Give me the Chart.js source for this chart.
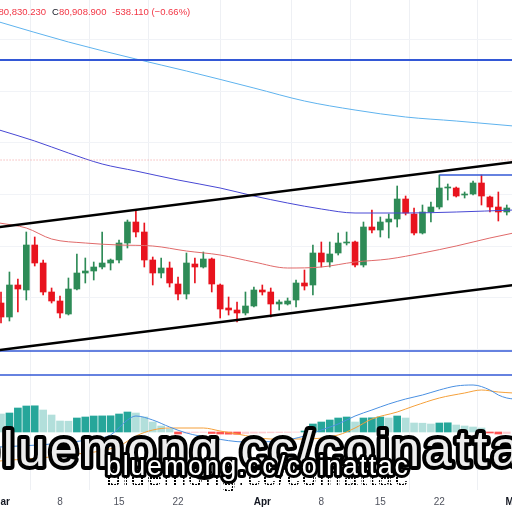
<!DOCTYPE html>
<html>
<head>
<meta charset="utf-8">
<script src="https://cdn.jsdelivr.net/npm/chart.js@4.4.1/dist/chart.umd.min.js"></script>
<style>
  html, body { margin: 0; padding: 0; background: #fff; overflow: hidden; }
  #wrap { position: relative; width: 512px; height: 512px; overflow: hidden;
          font-family: "Liberation Sans", Arial, sans-serif; }
  canvas { position: absolute; left: 0; }
  #main { top: 0; }
  #macd { top: 380px; }
  .hdr { position: absolute; top: 6px; font-size: 9.5px; line-height: 12px;
         color: #f23645; white-space: nowrap; }
  .hdr b { font-weight: normal; color: #131722; }
  #wm { position: absolute; left: 0; top: 0; }
  #wm text { font-family: "Liberation Sans", Arial, sans-serif; }
</style>
</head>
<body>
<div id="wrap">
  <canvas id="main" width="512" height="490"></canvas>
  <canvas id="macd" width="512" height="132"></canvas>

  <div class="hdr" style="right:466px"><b>L</b>80,830.230</div>
  <div class="hdr" style="left:52px"><b>C</b>80,908.900</div>
  <div class="hdr" style="left:112px">-538.110 (−0.66%)</div>

  <svg id="wm" width="512" height="512">
    <defs>
      <pattern id="scan" width="3" height="3" patternUnits="userSpaceOnUse">
        <rect width="2" height="2" fill="#000"/>
      </pattern>
    </defs>
    <text x="-29" y="466" font-size="50" letter-spacing="4"
          fill="#ececec" stroke="#000" stroke-width="8" stroke-linejoin="round"
          paint-order="stroke fill">bluemong.cc/coinattac</text>
    <text x="106" y="486" font-size="27" textLength="302" lengthAdjust="spacing"
          fill="url(#scan)">bluemong.cc/coinattac</text>
    <text x="106" y="475" font-size="27" textLength="302" lengthAdjust="spacing"
          fill="#fff" stroke="#000" stroke-width="6" stroke-linejoin="round"
          paint-order="stroke fill">bluemong.cc/coinattac</text>
  </svg>
</div>

<script>
// ── Daily candles, 1 Mar → 30 Apr ─────────────
const opens = [
  69700, 68300, 71500, 71000, 75500, 73700, 70800, 69900, 68600, 71100,
  72700, 72900, 73300, 73700, 74000, 75700, 77800, 76800, 74000, 72700,
  73200, 71600, 70600, 73600, 73300, 74100, 71500, 69200, 69000, 68700,
  69400, 71000, 70800, 69600, 69600, 70000, 71700, 71500, 74700, 73800,
  74700, 75700, 75800, 73500, 77300, 77000, 77800, 78100, 80100, 78600,
  76700, 78800, 79300, 81200, 81200, 80500, 80600, 81700, 80300, 79300,
  78800
];
const closes = [
  68300, 71500, 71100, 75500, 73700, 70800, 69900, 68700, 71100, 72700,
  72900, 73300, 73700, 74000, 75700, 77800, 76800, 74000, 72700, 73200,
  71700, 70600, 73700, 73300, 74100, 71600, 69100, 69000, 68700, 69400,
  71000, 70800, 69600, 69800, 69900, 71700, 71400, 74700, 73800, 74600,
  75700, 75800, 73500, 77300, 77000, 77800, 78100, 80100, 78700, 76700,
  78800, 79300, 81200, 81300, 80400, 80600, 81700, 80400, 79300, 78800,
  79200
];
const highs = [
  70800, 72800, 72100, 76800, 76300, 74000, 71200, 70400, 72200, 74600,
  74200, 73800, 76800, 74100, 76000, 78000, 78900, 77700, 74300, 74200,
  73800, 72300, 74700, 74200, 74800, 74200, 71600, 70300, 69800, 70800,
  71300, 71500, 71200, 70000, 70200, 72000, 73000, 75500, 75800, 75800,
  76700, 76800, 75900, 77800, 79000, 78300, 78600, 81400, 80400, 79200,
  79500, 79800, 82500, 81600, 81300, 80800, 81900, 82500, 80400, 80800,
  79500
];
const lows = [
  67700, 67900, 68800, 70000, 73400, 70500, 69700, 68200, 68500, 71000,
  71700, 72000, 73100, 73000, 73700, 75200, 76300, 73300, 71500, 72200,
  71300, 70000, 70100, 71700, 73200, 70800, 68200, 68500, 67800, 68500,
  69300, 70500, 68300, 69000, 69500, 69300, 71000, 70500, 73300, 73300,
  74500, 75500, 73300, 73300, 76700, 76300, 76200, 77300, 78500, 76500,
  76600, 77800, 79100, 80000, 80300, 80200, 80500, 79500, 78800, 77900,
  78500
];

// ── Moving averages (day index / value) ──────
const ma200Days = [-0.2, 8, 16, 22, 30, 36, 42, 48, 54, 60.8];
const ma200     = [97800, 95800, 94100, 92900, 91200, 89900, 89000, 88300, 87900, 87400];
const ma100Days = [-0.2, 4, 8, 12, 16, 21, 26, 30, 34, 38, 42, 48, 54, 60.8];
const ma100     = [87000, 85900, 84700, 83600, 82900, 82000, 81200, 80400, 79700, 79100,
                   78700, 78700, 78800, 79000];
const ma50Days  = [-0.2, 3, 6, 10, 14, 18, 22, 26, 30, 34, 38, 42, 46, 50, 54, 58, 60.8];
const ma50      = [77700, 77200, 76100, 75700, 75500, 75400, 74900, 74500, 73800, 73200,
                   73300, 73800, 74100, 74700, 75400, 76200, 76700];

// ── Drawn levels and channel ─────────────────
const bluLevels  = [94000, 64900, 62500];
const dotLevel   = 84000;
const boxTop     = 82500;
const boxFrom    = 52;
const chanDays   = [-0.2, 60.8];
const chanUpper  = [77300, 83800];
const chanLower  = [65000, 71500];

// ── MACD pane ────────────────────────────────
const hist = [
  1800, 1900, 2400, 2600, 2620, 2200, 1700, 1100, 1080, 1400,
  1500, 1600, 1610, 1620, 1800, 2000, 1900, 1500, 1000, 600,
  300, -200, -100, -50, -40, -150, -200, -220, -230, -150,
  -120, -100, -80, -60, -40, -20, 100, 800, 1000, 1200,
  1400, 1500, 1000, 1400, 1420, 1500, 1400, 1600, 1400, 900,
  880, 800, 900, 920, 700, 600, 500, 400, -100, -200,
  -150
];
const macdDays = [-0.2, 6, 11, 13, 15, 16, 18, 20, 22, 25, 29, 33, 36, 38, 40, 42,
                  44, 46, 48, 50, 52, 54, 56, 58, 59, 60, 60.8];
const macdVals = [-1500, -1200, -700, -300, 1200, 1600, 1200, 500, -100, -600, -1000,
                  -900, -400, 200, 800, 1600, 2200, 2800, 3300, 3700, 4200, 4600,
                  4700, 4200, 3700, 3400, 3300];
const sigDays  = [-0.2, 8, 14, 16, 18, 20, 24, 26, 28, 32, 36, 40, 42, 44, 47, 49,
                  52, 55, 57, 59, 60.8];
const sigVals  = [-2900, -2300, -1400, -400, 200, 400, 400, 100, -200, -700, -700,
                  -300, 400, 1300, 2000, 2600, 3400, 3900, 4200, 4000, 3900];

// ── Time axis ────────────────────────────────
const tickDays   = [0, 7, 14, 21, 31, 38, 45, 52, 61];
const tickLabels = ['Mar', '8', '15', '22', 'Apr', '8', '15', '22', 'May'];
const gridPrices = [96000, 90850, 85700, 80550, 75400, 70250, 65100];

// ── Styling ──────────────────────────────────
const UP   = '#2e8b57';
const DOWN = '#e8131e';
const FONT = '"Liberation Sans", Arial, sans-serif';
const X_MIN = -0.12, X_MAX = 60.62;

const pts  = (xs, ys) => xs.map((x, k) => ({ x, y: ys[k] }));
const candleColors = closes.map((c, k) => c >= opens[k] ? UP : DOWN);

function lineSet(data, color, width, order, extra) {
  return Object.assign({
    type: 'line', data, borderColor: color, borderWidth: width,
    pointRadius: 0, fill: false, order,
    cubicInterpolationMode: 'monotone'
  }, extra || {});
}

// keep the time scale edge to edge, labels may hang off the canvas
const noPad = s => { s.paddingLeft = 0; s.paddingRight = 0; };

const levelSets = bluLevels.map((p, k) =>
  lineSet(pts([X_MIN - 1, X_MAX + 1], [p, p]), '#3358d6', k === 0 ? 2 : 1.5, 1));

new Chart(document.getElementById('main'), {
  type: 'bar',
  data: {
    datasets: [
      lineSet(pts(chanDays, chanUpper), '#000', 2.5, 0),
      lineSet(pts(chanDays, chanLower), '#000', 2.5, 0),
      ...levelSets,
      lineSet(pts([boxFrom, X_MAX + 1], [boxTop, boxTop]), '#3358d6', 1.5, 1),
      lineSet(pts([X_MIN - 1, X_MAX + 1], [dotLevel, dotLevel]), '#f19a9a', 1, 1,
              { borderDash: [1, 2] }),
      lineSet(pts(ma200Days, ma200), '#5fb3ee', 1, 2),
      lineSet(pts(ma100Days, ma100), '#4848d4', 1, 2),
      lineSet(pts(ma50Days,  ma50),  '#e06a6a', 1, 2),
      {
        type: 'bar', order: 3, grouped: false,
        data: opens.map((o, k) => ({ x: k, y: [o, closes[k]] })),
        backgroundColor: candleColors, barThickness: 6, minBarLength: 1,
      },
      {
        type: 'bar', order: 4, grouped: false,
        data: lows.map((l, k) => ({ x: k, y: [l, highs[k]] })),
        backgroundColor: candleColors, barThickness: 1,
      },
    ]
  },
  options: {
    responsive: false, animation: false,
    layout: { autoPadding: false, padding: 0 },
    plugins: { legend: { display: false }, tooltip: { enabled: false } },
    scales: {
      x: {
        type: 'linear', min: X_MIN, max: X_MAX, offset: false,
        ticks: { display: false },
        grid: { color: '#eef0f4', drawTicks: false },
        border: { display: false },
        afterBuildTicks: s => { s.ticks = tickDays.map(v => ({ value: v })); },
        afterFit: noPad
      },
      y: {
        min: 51000, max: 100000,
        ticks: { display: false },
        grid: { color: '#f1f3f7', drawTicks: false },
        border: { display: false },
        afterBuildTicks: s => { s.ticks = gridPrices.map(v => ({ value: v })); }
      }
    }
  }
});

// MACD histogram colours follow TradingView: rising/falling shades
const histColors = hist.map((v, k) => {
  const prev = k ? hist[k - 1] : Infinity;
  if (v >= 0) return v >= prev ? '#26a69a' : '#b2dfdb';
  return v <= prev ? '#ff5252' : '#ffcdd2';
});

new Chart(document.getElementById('macd'), {
  type: 'bar',
  data: {
    datasets: [
      lineSet(pts(macdDays, macdVals), '#4a90e2', 1, 0),
      lineSet(pts(sigDays, sigVals), '#f5a03a', 1, 0),
      {
        type: 'bar', order: 1, grouped: false,
        data: hist.map((v, k) => ({ x: k, y: v })),
        backgroundColor: histColors, barThickness: 7,
      }
    ]
  },
  options: {
    responsive: false, animation: false,
    layout: { autoPadding: false, padding: 0 },
    plugins: { legend: { display: false }, tooltip: { enabled: false } },
    scales: {
      x: {
        type: 'linear', min: X_MIN, max: X_MAX, offset: false,
        grid: { display: false },
        border: { display: false },
        afterBuildTicks: s => { s.ticks = tickDays.map(v => ({ value: v })); },
        // fixed time-axis strip so the pane keeps its 112px height
        afterFit: s => { noPad(s); s.height = 20; },
        ticks: {
          autoSkip: false, maxRotation: 0, padding: -4,
          callback: (v, i) => tickLabels[i],
          color: c => isNaN(tickLabels[c.index]) ? '#131722' : '#50535e',
          font: c => ({
            family: FONT, size: 10,
            weight: isNaN(tickLabels[c.index]) ? 'bold' : 'normal'
          })
        }
      },
      y: { display: false, min: -6000, max: 5200 }
    }
  }
});
</script>
</body>
</html>
